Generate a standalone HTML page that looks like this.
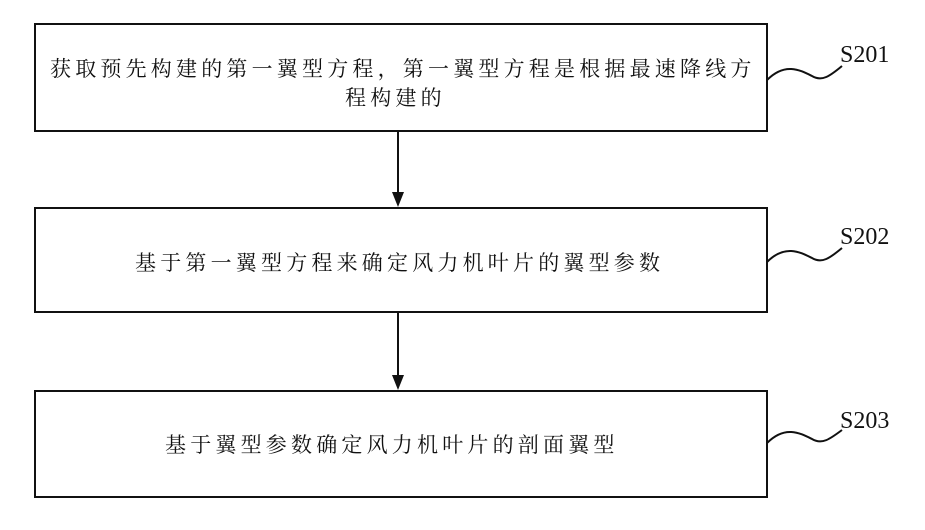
<!DOCTYPE html>
<html><head><meta charset="utf-8"><style>
body{margin:0;background:#fff;}
.t{font-family:"Liberation Serif","Noto Serif CJK SC",serif;font-size:21px;fill:#111;letter-spacing:4.2px;}
.s{font-family:"Liberation Serif",serif;font-size:24px;fill:#111;}
</style></head><body>
<svg width="925" height="525" xmlns="http://www.w3.org/2000/svg">
<g fill="none" stroke="#111" stroke-width="2">
<rect x="35" y="24" width="732" height="107"/>
<rect x="35" y="208" width="732" height="104"/>
<rect x="35" y="391" width="732" height="106"/>
<line x1="398" y1="131" x2="398" y2="194"/>
<line x1="398" y1="312" x2="398" y2="377"/>
<path d="M767,80 C785,62 800,70 812,76 C822,82 830,76 842,66"/>
<path d="M767,262 C785,244 800,252 812,258 C822,264 830,258 842,248"/>
<path d="M767,443 C785,425 800,433 812,439 C822,445 830,439 842,430"/>
</g>
<path d="M392,192 L404,192 L398,207 Z" fill="#111"/>
<path d="M392,375 L404,375 L398,390 Z" fill="#111"/>
<text class="t" x="50" y="76">获取预先构建的第一翼型方程，第一翼型方程是根据最速降线方</text>
<text class="t" x="345" y="105">程构建的</text>
<text class="t" x="135" y="270">基于第一翼型方程来确定风力机叶片的翼型参数</text>
<text class="t" x="165" y="452">基于翼型参数确定风力机叶片的剖面翼型</text>
<text class="s" x="840" y="62">S201</text>
<text class="s" x="840" y="244">S202</text>
<text class="s" x="840" y="428">S203</text>
</svg>
</body></html>
